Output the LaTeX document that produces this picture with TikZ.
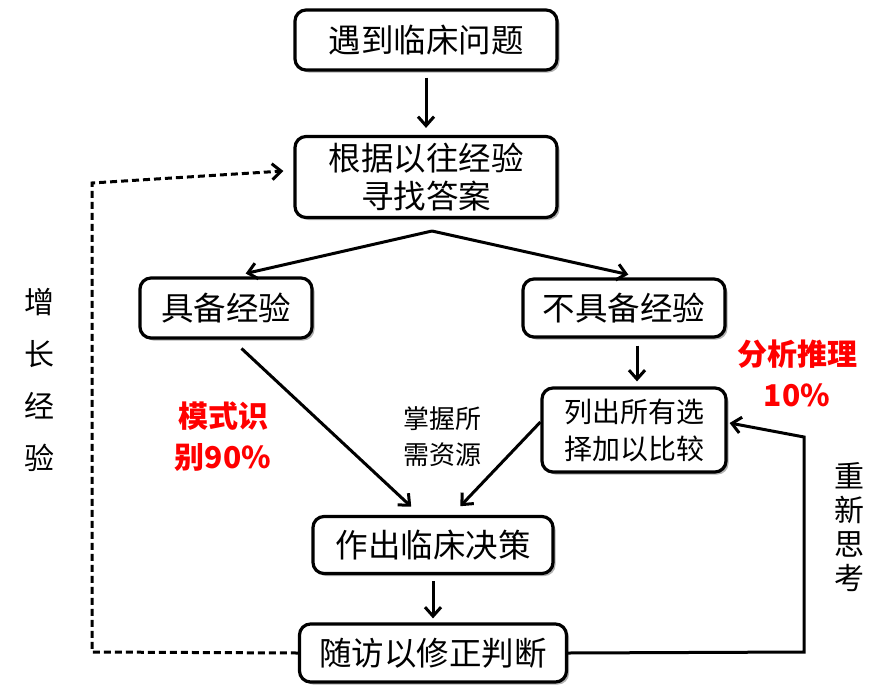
\documentclass[tikz,border=0pt]{standalone}
\usepackage{fontspec}
\newfontfamily\cjk{Noto Sans CJK SC}
\usetikzlibrary{arrows.meta,shadows}

\begin{document}
\begin{tikzpicture}[x=1pt,y=-1pt,
  box/.style={draw,line width=3.2pt,rounded corners=11pt,fill=white,inner sep=0pt,align=center,
    font=\cjk\fontsize{32.5}{38}\selectfont,
    drop shadow={shadow xshift=2.5pt,shadow yshift=-2.5pt,opacity=0.3,fill=black}},
  smallbox/.style={box,font=\cjk\fontsize{28}{37}\selectfont},
  arr/.style={line width=3pt,-{Straight Barb[length=9pt,width=16pt,line width=3pt]}},
  side/.style={font=\cjk\fontsize{30}{52}\selectfont,align=center},
  red/.style={font=\cjk\bfseries\fontsize{30}{41}\selectfont,text=red,align=center},
  hint/.style={font=\cjk\fontsize{26}{36}\selectfont,align=center}]

\useasboundingbox (0,0) rectangle (882,693);

%Boxes of the flow
\node[box,minimum width=262pt,minimum height=60pt] (meet) at (426,40) {遇到临床问题};
\node[box,minimum width=262pt,minimum height=81pt] (seek) at (426,177) {根据以往经验\\寻找答案};
\node[box,minimum width=172pt,minimum height=60pt] (has) at (226,308) {具备经验};
\node[box,minimum width=202pt,minimum height=58pt] (lack) at (624,308) {不具备经验};
\node[smallbox,minimum width=184pt,minimum height=84pt] (list) at (634,430) {列出所有选\\择加以比较};
\node[box,minimum width=240pt,minimum height=57pt] (decide) at (433,545) {作出临床决策};
\node[box,minimum width=267pt,minimum height=58pt] (follow) at (433,653) {随访以修正判断};

%Fork point and corner points
\coordinate (fork) at (432,231);
\coordinate (dashcorner) at (92,652);
\coordinate (dashtop) at (92,183);
\coordinate (loopcorner) at (804,652);
\coordinate (looptop) at (804,437);

%Drawing arrows
\draw[arr,shorten <=6pt,shorten >=7pt] (meet.south) -- (seek.north);
\draw[arr,shorten >=13pt] (fork) -- ([xshift=7pt]has.north);
\draw[arr,shorten >=13pt] (fork) -- ([xshift=17pt]lack.north);
\draw[arr,shorten <=7pt,shorten >=5pt] ([xshift=13pt]lack.south) -- ([xshift=3pt]list.north);
\draw[arr,shorten <=13pt,shorten >=12pt] ([xshift=6pt]has.south) -- ([xshift=-13pt]decide.north);
\draw[arr,shorten >=12pt] ([yshift=8pt]list.west) -- ([xshift=19pt]decide.north);
\draw[arr,shorten <=6pt,shorten >=4pt] (decide.south) -- (follow.north);
\draw[arr] (follow.east) -- (loopcorner) -- (looptop) -- ([xshift=2pt,yshift=7pt]list.east);
\draw[arr,dashed,dash pattern=on 7pt off 4pt] (follow.west) -- (dashcorner) -- (dashtop) -- ([xshift=-10pt,yshift=6pt]seek.west);

%Side texts
\node[side] (grow) at (39,380) {增\\长\\经\\验};
\node[side,font=\cjk\fontsize{30}{34}\selectfont] (rethink) at (849,527) {重\\新\\思\\考};
\node[red] (pattern) at (223,437) {模式识\\别90\%};
\node[red] (reason) at (797,373) {分析推理\\10\%};
\node[hint] (res) at (442,437) {掌握所\\需资源};
\end{tikzpicture}
\end{document}
